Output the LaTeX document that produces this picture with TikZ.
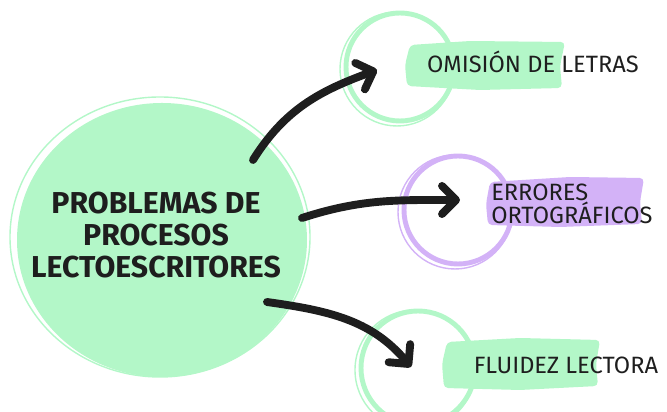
\documentclass[tikz,border=0pt]{standalone}
\usepackage{fontspec}
\setmainfont{Fira Sans}
\usepackage{tikz}
\usetikzlibrary{arrows.meta}

\definecolor{mint}{HTML}{B3F7C8}
\definecolor{lilac}{HTML}{D3B2F7}
\definecolor{ink}{HTML}{1E1E1E}

\begin{document}
\begin{tikzpicture}[
		x=0.025cm, y=0.025cm,
		every node/.style={text=ink, inner sep=0pt},
		main_text/.style={font=\fontsize{21.5}{22.5}\selectfont\bfseries, align=center},
		leaf_text/.style={font=\fontsize{16.8}{16}\selectfont},
		ring/.style={draw=#1, line width=3.5pt},
		thick_arrow/.style={draw=ink, line width=5.6pt, line cap=round,
			-{Straight Barb[length=10pt,width=20pt,round]}}
	]
  \useasboundingbox (0,0) rectangle (667,412);
  % big disc
  \fill[mint] (162,172) ellipse [x radius=145, y radius=137];
  \draw[mint, line width=1pt] (160,175) ellipse [x radius=150, y radius=140];
  \node (problemas) [main_text] at (156,177) {PROBLEMAS DE\\PROCESOS\\LECTOESCRITORES};
  % top leaf
  \draw[ring=mint] (400,345) circle (54);
  \draw[mint, line width=1pt] (397,343) circle (57);
  \fill[mint, rounded corners=3pt] (407,326) -- (480,322) -- (562,324) -- (560,346)
    -- (565,370) -- (470,371) -- (410,367) -- (405,347) -- cycle;
  \node (omision) [leaf_text] at (533,350) {OMISIÓN DE LETRAS};
  % middle leaf
  \draw[ring=lilac] (458,202) circle (54);
  \draw[lilac, line width=1pt] (455,200) circle (57);
  \fill[lilac, rounded corners=3pt] (488,187) -- (560,185) -- (642,188) -- (640,210)
    -- (644,234) -- (570,235) -- (490,230) -- (486,208) -- cycle;
  \node (errores) [leaf_text, align=left, anchor=west] at (491,208) {ERRORES\\ORTOGRÁFICOS};
  % bottom leaf
  \draw[ring=mint] (418,44) circle (57);
  \draw[mint, line width=1pt] (415,42) circle (60);
  \fill[mint, rounded corners=3pt] (444,24) -- (520,22) -- (598,26) -- (596,48)
    -- (600,72) -- (520,74) -- (447,70) -- (442,48) -- cycle;
  \node (fluidez) [leaf_text] at (566,47) {FLUIDEZ LECTORA};
  % arrows
  \coordinate (a1_start) at (253,252);
  \coordinate (a1_end) at (377,342);
  \coordinate (a2_start) at (302,194);
  \coordinate (a2_end) at (460,212);
  \coordinate (a3_start) at (267,110);
  \coordinate (a3_end) at (411,45);
  \draw[thick_arrow] (a1_start) to[out=58, in=200] (a1_end);
  \draw[thick_arrow] (a2_start) to[out=18, in=180] (a2_end);
  \draw[thick_arrow] (a3_start) to[out=-8, in=130] (a3_end);
\end{tikzpicture}
\end{document}
